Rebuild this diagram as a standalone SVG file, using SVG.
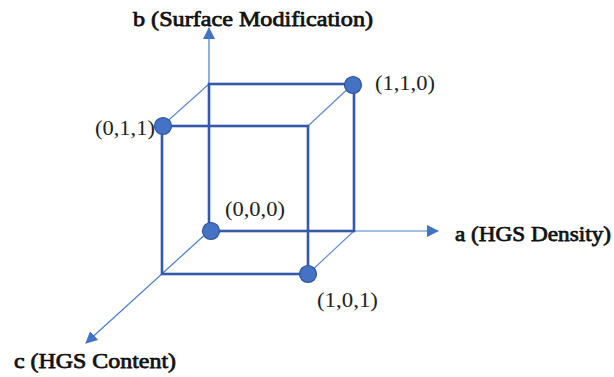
<svg xmlns="http://www.w3.org/2000/svg" width="614" height="377" viewBox="0 0 614 377">
  <style>
    .axis { stroke: #4a7cc9; stroke-width: 1.2; fill: none; }
    .edge { stroke: #3558a8; stroke-width: 2.6; fill: none; stroke-linecap: square; }
    .thin { stroke: #5a88d0; stroke-width: 1.1; fill: none; }
    .vertex { fill: #4472c4; stroke: #2f5597; stroke-width: 1.2; }
    .coord { font-family: "Liberation Serif", "Times New Roman", serif; font-size: 21px; fill: #222; }
    .axlabel { font-family: "Liberation Serif", "Times New Roman", serif; font-size: 21px; fill: #111; stroke: #111; stroke-width: 0.75; }
  </style>
  <defs>
    <marker id="arrow" viewBox="0 0 12 12" refX="11" refY="6" markerWidth="12" markerHeight="12" markerUnits="userSpaceOnUse" orient="auto">
      <path d="M0,0 L12,6 L0,12 Z" fill="#4472c4"/>
    </marker>
  </defs>

  <g id="connectors">
    <!-- coordinate axes -->
    <line class="axis" x1="209" y1="84" x2="209" y2="28" marker-end="url(#arrow)"/>
    <line class="axis" x1="354" y1="231" x2="438" y2="231" marker-end="url(#arrow)"/>
    <line class="axis" x1="209" y1="231" x2="86" y2="343" marker-end="url(#arrow)"/>
    <!-- receding cube edges -->
    <line class="thin" x1="209" y1="84" x2="162" y2="126"/>
    <line class="thin" x1="353" y1="84" x2="308" y2="126"/>
    <line class="thin" x1="354" y1="231" x2="308" y2="274"/>
    <!-- back face -->
    <rect class="edge" x="209" y="84" width="145" height="147"/>
    <!-- front face -->
    <rect class="edge" x="162" y="126" width="146" height="148"/>
  </g>

  <g id="node-000">
    <circle class="vertex" cx="211" cy="231" r="8.5"/>
    <text class="coord" x="225" y="216" textLength="60" lengthAdjust="spacingAndGlyphs">(0,0,0)</text>
  </g>
  <g id="node-110">
    <circle class="vertex" cx="353" cy="85" r="8.5"/>
    <text class="coord" x="375" y="90" textLength="60" lengthAdjust="spacingAndGlyphs">(1,1,0)</text>
  </g>
  <g id="node-011">
    <circle class="vertex" cx="163" cy="126" r="8.5"/>
    <text class="coord" x="95" y="135" textLength="60" lengthAdjust="spacingAndGlyphs">(0,1,1)</text>
  </g>
  <g id="node-101">
    <circle class="vertex" cx="308" cy="274" r="8.5"/>
    <text class="coord" x="317" y="307" textLength="61" lengthAdjust="spacingAndGlyphs">(1,0,1)</text>
  </g>

  <g id="label-b">
    <text class="axlabel" x="133" y="26" textLength="240" lengthAdjust="spacingAndGlyphs">b (Surface Modification)</text>
  </g>
  <g id="label-a">
    <text class="axlabel" x="455" y="241" textLength="156" lengthAdjust="spacingAndGlyphs">a (HGS Density)</text>
  </g>
  <g id="label-c">
    <text class="axlabel" x="14" y="368" textLength="162" lengthAdjust="spacingAndGlyphs">c (HGS Content)</text>
  </g>
</svg>
